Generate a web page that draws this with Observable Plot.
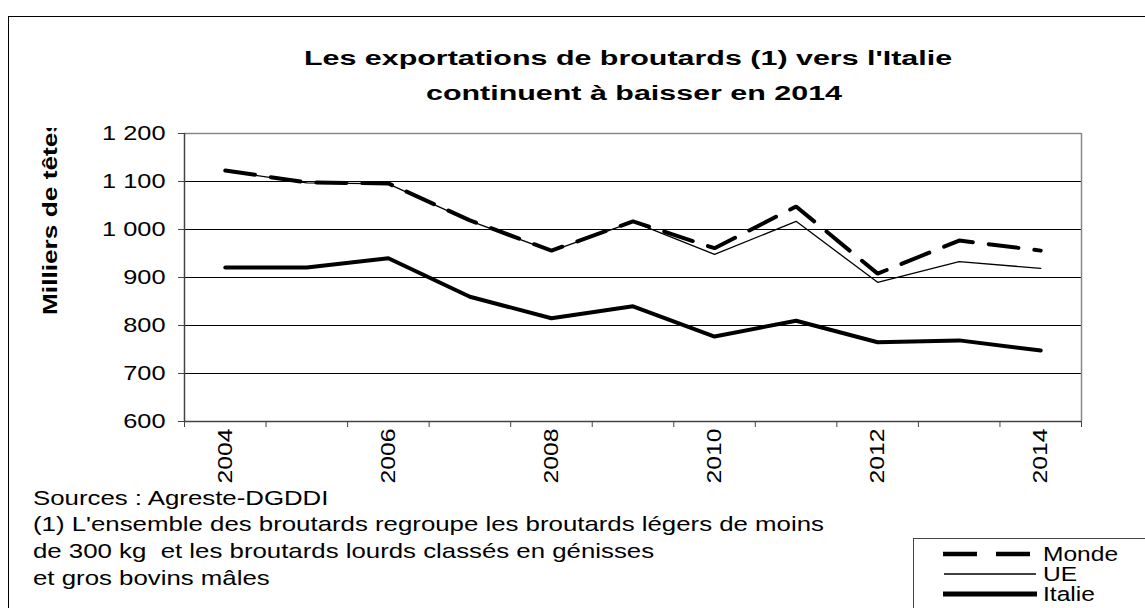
<!DOCTYPE html>
<html><head><meta charset="utf-8">
<script src="https://cdn.jsdelivr.net/npm/d3@7"></script>
<script src="https://cdn.jsdelivr.net/npm/@observablehq/plot@0.6"></script>
<style>
html,body{margin:0;padding:0;background:#fff;}
body{width:1145px;height:608px;position:relative;overflow:hidden;font-family:"Liberation Sans",Arial,sans-serif;color:#000;}
#frame{position:absolute;left:8px;top:16px;width:1200px;height:700px;border:1px solid #000;box-sizing:border-box;}
#chart{position:absolute;left:0;top:0;}
#overlay{position:absolute;left:0;top:0;}
#overlay text{font-family:"Liberation Sans",Arial,sans-serif;fill:#000;white-space:pre;}
</style></head>
<body>
<div id="frame"></div>
<div id="chart"></div>
<svg id="overlay" width="1145" height="608">
  <defs><clipPath id="ylabclip"><rect x="0" y="128" width="120" height="300"/></clipPath></defs>
  <text transform="translate(628,65) scale(1.45,1)" text-anchor="middle" font-size="21" font-weight="bold">Les exportations de broutards (1) vers l'Italie</text>
  <text transform="translate(634,100) scale(1.45,1)" text-anchor="middle" font-size="21" font-weight="bold">continuent à baisser en 2014</text>
  <g clip-path="url(#ylabclip)">
    <text transform="translate(57,315) rotate(-90) scale(1.25,1)" text-anchor="start" font-size="21" font-weight="bold">Milliers de têtes</text>
  </g>
  <text transform="translate(33,505) scale(1.23,1)" font-size="21">Sources : Agreste-DGDDI</text>
  <text transform="translate(33,531) scale(1.23,1)" font-size="21">(1) L'ensemble des broutards regroupe les broutards légers de moins</text>
  <text transform="translate(33,558) scale(1.23,1)" font-size="21">de 300 kg  et les broutards lourds classés en génisses</text>
  <text transform="translate(33,585) scale(1.23,1)" font-size="21">et gros bovins mâles</text>
  <g id="legend">
    <rect x="913.5" y="538.5" width="300" height="100" fill="#fff" stroke="#444" stroke-width="1"/>
    <line x1="943" x2="977" y1="554" y2="554" stroke="#000" stroke-width="4.5"/>
    <line x1="996" x2="1030" y1="554" y2="554" stroke="#000" stroke-width="4.5"/>
    <line x1="944" x2="1036" y1="574" y2="574" stroke="#000" stroke-width="1.5"/>
    <line x1="943" x2="1037" y1="594" y2="594" stroke="#000" stroke-width="5"/>
    <text transform="translate(1043,561) scale(1.26,1)" font-size="19.5">Monde</text>
    <text transform="translate(1043,581) scale(1.26,1)" font-size="19.5">UE</text>
    <text transform="translate(1043,601) scale(1.26,1)" font-size="19.5">Italie</text>
  </g>
</svg>
<script>
const years = [2004, 2005, 2006, 2007, 2008, 2009, 2010, 2011, 2012, 2013, 2014];
const monde = [1123, 1098, 1096, 1019, 956, 1017, 961, 1048, 908, 977, 956];
const ue = [1122, 1097, 1095, 1018, 955, 1016, 948, 1017, 890, 933, 919];
const italie = [921, 921, 940, 860, 815, 840, 777, 810, 765, 769, 748];
const yTicks = [600, 700, 800, 900, 1000, 1100, 1200];
const xLabelYears = [2004, 2006, 2008, 2010, 2012, 2014];
const seriesNames = ["Monde", "UE", "Italie"];

const fr = d3.formatLocale({decimal: ",", thousands: " ", grouping: [3], currency: ["", " €"]});
const fmt = fr.format(",d");

const mk = (vals) => years.map((y, i) => ({year: y, value: vals[i]}));
const dMonde = mk(monde), dUE = mk(ue), dItalie = mk(italie);
const bounds = d3.range(years[0] - 0.5, years[years.length - 1] + 1, 1);

const chart = Plot.plot({
  width: 1145, height: 608,
  marginTop: 133, marginLeft: 184, marginRight: 64, marginBottom: 187,
  style: {fontFamily: "'Liberation Sans', Arial, sans-serif", background: "transparent", color: "#000"},
  x: {type: "linear", domain: [years[0] - 0.5, years[years.length - 1] + 0.5]},
  y: {domain: [600, 1200]},
  marks: [
    Plot.ruleY(yTicks.slice(1, -1), {stroke: "#000", strokeWidth: 1}),
    Plot.ruleY([1200], {stroke: "#888", strokeWidth: 1.5}),
    Plot.ruleX([years[years.length - 1] + 0.5], {stroke: "#888", strokeWidth: 1.5}),
    Plot.axisY({ticks: yTicks, tickSize: 6, tickPadding: 13, tickFormat: fmt, fontSize: 19.5, label: null, stroke: "#444"}),
    Plot.axisX({ticks: bounds, tickSize: 6, tickFormat: () => "", label: null, stroke: "#444"}),
    Plot.axisX({ticks: xLabelYears, tickSize: 0, tickPadding: 7, tickRotate: -90, tickFormat: d => String(d), fontSize: 21, label: null}),
    Plot.ruleX([years[0] - 0.5], {stroke: "#444", strokeWidth: 1.5}),
    Plot.ruleY([600], {stroke: "#444", strokeWidth: 1.5}),
    Plot.line(dUE, {x: "year", y: "value", stroke: "#000", strokeWidth: 1.3}),
    Plot.line(dMonde, {x: "year", y: "value", stroke: "#000", strokeWidth: 4, strokeDasharray: "30,16", strokeLinejoin: "miter"}),
    Plot.line(dItalie, {x: "year", y: "value", stroke: "#000", strokeWidth: 4, strokeLinejoin: "miter"})
  ]
});
document.getElementById("chart").appendChild(chart);

// stretch tick labels horizontally along their baseline, as in the reference
chart.querySelectorAll('g[aria-label="y-axis tick label"] text').forEach(el => {
  el.setAttribute("transform", (el.getAttribute("transform") || "") + " scale(1.3,1)");
});
chart.querySelectorAll('g[aria-label="x-axis tick label"] text').forEach(el => {
  el.setAttribute("transform", (el.getAttribute("transform") || "") + " scale(1.18,1)");
});
</script>
</body></html>
